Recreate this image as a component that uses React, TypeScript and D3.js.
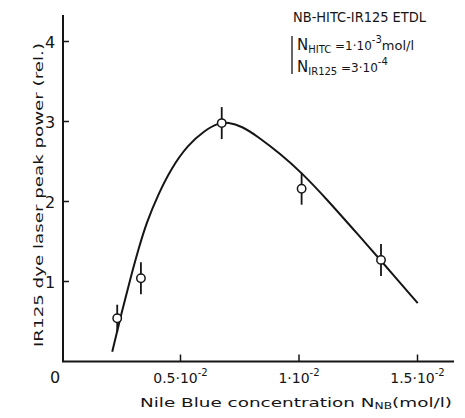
import React from "react";
import * as d3 from "d3";

// measured points (x in units of 1e-2 mol/l, y relative power)
const pointX = [0.233, 0.333, 0.674, 1.011, 1.346];
const pointY = [0.54, 1.04, 2.98, 2.16, 1.27];
const pointErr = [0.17, 0.2, 0.2, 0.2, 0.2];

// fitted curve
const curveX = [0.212, 0.251, 0.287, 0.322, 0.357, 0.406, 0.462, 0.532, 0.603, 0.659, 0.70, 0.76, 0.822, 0.92, 1.011, 1.117, 1.257, 1.346, 1.501];
const curveY = [0.123, 0.603, 1.02, 1.40, 1.74, 2.09, 2.42, 2.71, 2.89, 2.98, 2.99, 2.94, 2.82, 2.6, 2.36, 2.03, 1.56, 1.26, 0.73];

const yTicks = [1, 2, 3, 4];
const xTicks = [0.5, 1, 1.5];
const xTickLabels = ["0.5", "1", "1.5"];

const font = "'DejaVu Sans', sans-serif";
const ink = "#151515";

export default function App() {
  const x = d3.scaleLinear().domain([0, 1]).range([62, 299]);
  const y = d3.scaleLinear().domain([0, 1]).range([361.5, 281.5]);

  const line = d3
    .line<number>()
    .x((d) => x(d))
    .y((_, i) => y(curveY[i]))
    .curve(d3.curveBasis);

  return (
    <svg
      width={465}
      height={418}
      style={{ position: "absolute", left: 0, top: 0, background: "#fff" }}
    >
      {/* axes */}
      <g stroke={ink} strokeWidth={2} fill="none">
        <line x1={x(0) + 1} y1={15} x2={x(0) + 1} y2={y(0)} />
        <line x1={x(0)} y1={y(0)} x2={454} y2={y(0)} />
        {yTicks.map((t) => (
          <line key={t} x1={x(0) + 1} x2={x(0) + 7} y1={y(t)} y2={y(t)} strokeWidth={1.5} />
        ))}
        {xTicks.map((t) => (
          <line key={t} x1={x(t)} x2={x(t)} y1={y(0)} y2={y(0) - 7} strokeWidth={1.5} />
        ))}
      </g>

      {/* y tick labels */}
      <g fontFamily={font} fontSize={16} fill={ink} textAnchor="middle">
        {yTicks.map((t) => (
          <text key={t} x={50} y={y(t) + 6}>
            {t}
          </text>
        ))}
        <text x={55} y={383}>0</text>
      </g>

      {/* x tick labels */}
      <g fontFamily={font} fontSize={14} fill={ink} textAnchor="middle">
        {xTicks.map((t, i) => (
          <text key={t} x={x(t)} y={383}>
            {xTickLabels[i]}·10
            <tspan fontSize={10} dy={-7}>-2</tspan>
          </text>
        ))}
      </g>

      {/* curve */}
      <path d={line(curveX) || ""} fill="none" stroke={ink} strokeWidth={2} />

      {/* points with error bars */}
      <g stroke={ink} strokeWidth={1.8}>
        {pointX.map((px, i) => (
          <g key={i}>
            <line
              x1={x(px)}
              x2={x(px)}
              y1={y(pointY[i] - pointErr[i])}
              y2={y(pointY[i] + pointErr[i])}
            />
            <circle cx={x(px)} cy={y(pointY[i])} r={4.2} fill="#fff" strokeWidth={1.5} />
          </g>
        ))}
      </g>

      {/* y axis title */}
      <text
        transform="translate(43,195) rotate(-90)"
        fontFamily={font}
        fontSize={13}
        fill={ink}
        textAnchor="middle"
        textLength={304}
        lengthAdjust="spacingAndGlyphs"
      >
        IR125 dye laser peak power (rel.)
      </text>

      {/* x axis title */}
      <text
        x={140}
        y={407}
        fontFamily={font}
        fontSize={12}
        fill={ink}
        textLength={312}
        lengthAdjust="spacingAndGlyphs"
      >
        Nile Blue  concentration  N<tspan fontSize={8} dy={2}>NB</tspan>
        <tspan dy={-2}>(mol/l)</tspan>
      </text>

      {/* annotation */}
      <g fontFamily={font} fill={ink}>
        <text x={293} y={22} fontSize={14} textLength={133} lengthAdjust="spacingAndGlyphs">
          NB-HITC-IR125 ETDL
        </text>
        <line x1={292} x2={292} y1={36} y2={74} stroke={ink} strokeWidth={1.3} />
        <text x={297} y={50} fontSize={15}>
          N<tspan fontSize={10} dy={3}>HITC</tspan>
          <tspan fontSize={12} dy={-3}> =1·10</tspan>
          <tspan fontSize={10} dy={-7}>-3</tspan>
          <tspan fontSize={13} dy={7}>mol/l</tspan>
        </text>
        <text x={297} y={72} fontSize={15}>
          N<tspan fontSize={10} dy={3}>IR125</tspan>
          <tspan fontSize={12} dy={-3}> =3·10</tspan>
          <tspan fontSize={10} dy={-7}>-4</tspan>
        </text>
      </g>
    </svg>
  );
}
